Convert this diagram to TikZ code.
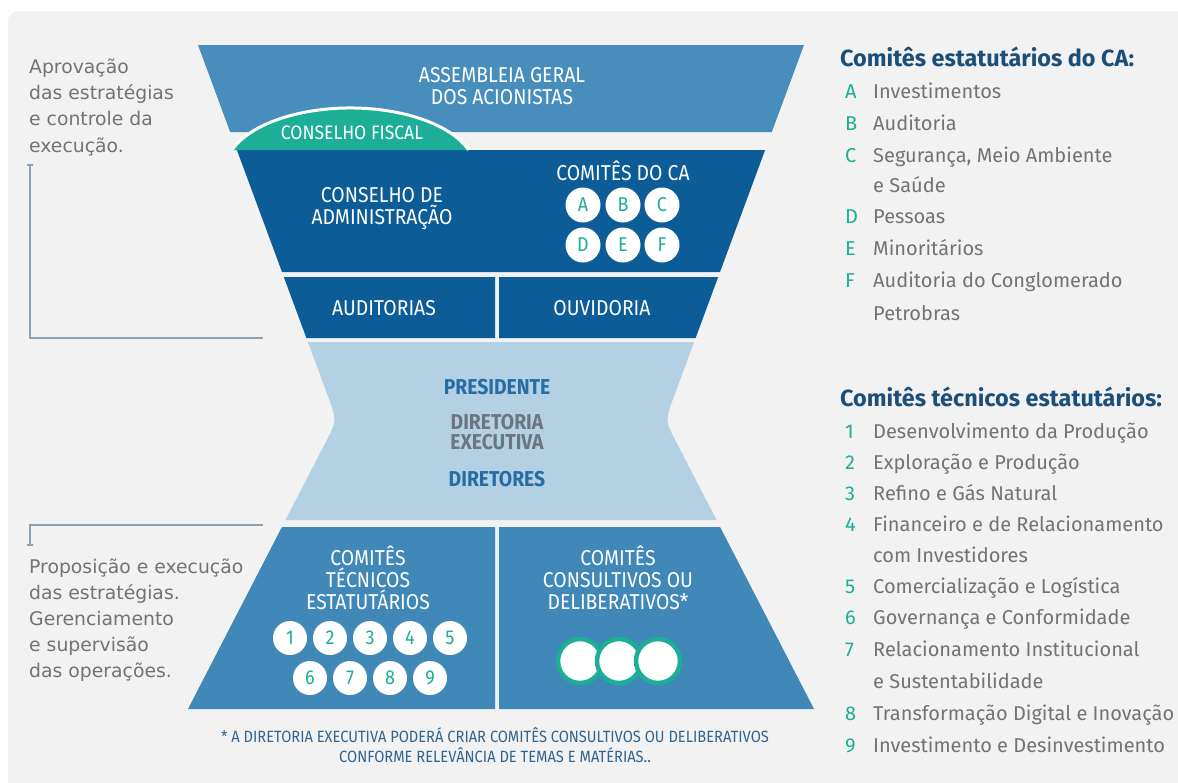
\documentclass[tikz,border=0pt]{standalone}
\usepackage{fontspec}
\setmainfont{Fira Sans}
\newfontfamily\bandfont[FakeStretch=0.9]{Fira Sans}
\newfontfamily\sidefont{DejaVu Sans}
\usetikzlibrary{calc}
\definecolor{paper}{RGB}{242,242,242}
\definecolor{steelblue}{RGB}{72,142,188}
\definecolor{darkblue}{RGB}{12,92,152}
\definecolor{paleblue}{RGB}{180,208,227}
\definecolor{midblue}{RGB}{63,136,184}
\definecolor{govteal}{RGB}{28,174,150}
\definecolor{textgray}{RGB}{115,115,115}
\definecolor{headblue}{RGB}{28,78,122}
\definecolor{labelblue}{RGB}{38,108,165}
\definecolor{diretgray}{RGB}{108,118,128}
\definecolor{noteblue}{RGB}{47,100,145}
\definecolor{bracketgray}{RGB}{140,160,180}
\tikzset{
  bandtext/.style={text=white,align=center,inner sep=0pt,font=\bandfont\fontsize{21.5}{22}\selectfont},
  cabubble/.style={circle,fill=white,text=govteal,minimum size=35pt,inner sep=0pt,font=\bandfont\fontsize{20}{20}\selectfont},
  tecbubble/.style={cabubble,minimum size=34pt},
  consbubble/.style={circle,fill=white,draw=govteal,line width=4.5pt,minimum size=44pt,inner sep=0pt},
  sideline/.style={anchor=base west,text=textgray,inner sep=0pt,font=\sidefont\fontsize{18.8}{22}\selectfont},
  listhead/.style={anchor=base west,text=headblue,inner sep=0pt,font=\bfseries\fontsize{23.4}{26}\selectfont},
  listkey/.style={anchor=base west,text=govteal,inner sep=0pt,font=\fontsize{20}{24}\selectfont},
  listitem/.style={anchor=base west,text=textgray,inner sep=0pt,font=\fontsize{20}{24}\selectfont},
  bracket/.style={draw=bracketgray,line width=1.3pt}
}

\begin{document}
\begin{tikzpicture}[x=1pt,y=-1pt]
  \useasboundingbox (0,0) rectangle (1178,782);
  \fill[white] (0,0) rectangle (1178,782);
  \fill[paper,rounded corners=10pt] (8,11) rectangle (1200,800);

  % hourglass bands
  \fill[steelblue] (198,45) -- (804,45) -- (771.8,132) -- (230.2,132) -- cycle;
  \fill[darkblue] (236.9,150) -- (765.1,150) -- (720,272) -- (282,272) -- cycle;
  \fill[darkblue] (283.8,277) -- (495,277) -- (495,338) -- (306.4,338) -- cycle;
  \fill[darkblue] (499,277) -- (718.2,277) -- (695.6,338) -- (499,338) -- cycle;
  \fill[paleblue] (307.9,342) -- (327.1,394) .. controls (337,420.4) .. (326.8,440) -- (285.5,520)
    -- (716.5,520) -- (675.2,440) .. controls (665,420.4) .. (674.9,394) -- (694.1,342) -- cycle;
  \fill[midblue] (281.9,527) -- (495,527) -- (495,709) -- (188,709) -- cycle;
  \fill[midblue] (499,527) -- (720.1,527) -- (814,709) -- (499,709) -- cycle;
  \fill[govteal] (232,150) arc[start angle=161.2,end angle=18.8,x radius=125pt,y radius=62pt] -- cycle;
  \draw[white,line width=3pt] (232,150) arc[start angle=161.2,end angle=18.8,x radius=125pt,y radius=62pt];

  % labels on the bands
  \node[bandtext] (assembleia) at (502,86) {ASSEMBLEIA GERAL\\DOS ACIONISTAS};
  \node[bandtext,font=\bandfont\fontsize{19.5}{20}\selectfont] (fiscal) at (352,133) {CONSELHO FISCAL};
  \node[bandtext] (conselho) at (382,209) {CONSELHO DE\\ADMINISTRAÇÃO};
  \node[bandtext] (comitesca) at (623,171) {COMITÊS DO CA};
  \foreach \k/\x/\y in {A/583/205,B/623/205,C/662/205,D/583/245,E/623/245,F/662/245}
    \node[cabubble] (ca-\k) at (\x,\y) {\k};
  \node[bandtext] (auditorias) at (384,308) {AUDITORIAS};
  \node[bandtext] (ouvidoria) at (602,308) {OUVIDORIA};
  \node[bandtext,text=labelblue,font=\bandfont\bfseries\fontsize{21.5}{22}\selectfont] (presidente) at (497,387) {PRESIDENTE};
  \node[bandtext,text=diretgray,font=\bandfont\bfseries\fontsize{21.5}{20}\selectfont] (diretoria) at (497,432) {DIRETORIA\\EXECUTIVA};
  \node[bandtext,text=labelblue,font=\bandfont\bfseries\fontsize{21.5}{22}\selectfont] (diretores) at (497,479) {DIRETORES};
  \node[bandtext] (tecnicos) at (368,578) {COMITÊS\\TÉCNICOS\\ESTATUTÁRIOS};
  \foreach \k/\x/\y in {1/290/638,2/330/638,3/370/638,4/410/638,5/450/638,6/310/678,7/350/678,8/390/678,9/430/678}
    \node[tecbubble] (tec-\k) at (\x,\y) {\k};
  \node[bandtext] (consultivos) at (618,578) {COMITÊS\\CONSULTIVOS OU\\DELIBERATIVOS*};
  \foreach \i/\x in {1/580,2/619,3/658}
    \node[consbubble] (cons-\i) at (\x,661) {};
  \node[bandtext,text=noteblue,font=\bandfont\fontsize{16.3}{20}\selectfont] (nota) at (495,745)
    {* A DIRETORIA EXECUTIVA PODERÁ CRIAR COMITÊS CONSULTIVOS OU DELIBERATIVOS\\CONFORME RELEVÂNCIA DE TEMAS E MATÉRIAS..};

  % left side texts and brackets
  \foreach \t [count=\i] in {Aprovação,das estratégias,e controle da,execução.}
    \node[sideline] (aprov-\i) at (29,47+26.3*\i) {\t};
  \draw[bracket] (27,165) -- (33,165);
  \draw[bracket] (30,165) -- (30,338) -- (263,338);
  \draw[bracket] (263,525) -- (30,525) -- (30,545);
  \draw[bracket] (27,545) -- (33,545);
  \foreach \t [count=\i] in {Proposição e execução,das estratégias.,Gerenciamento,e supervisão,das operações.}
    \node[sideline] (propos-\i) at (29,547+26*\i) {\t};

  % right side lists
  \node[listhead] (cahead) at (840,66) {Comitês estatutários do CA:};
  \foreach \y/\k/\t in {98/A/Investimentos,130/B/Auditoria,162/C/{Segurança, Meio Ambiente},223/D/Pessoas,255/E/Minoritários,287/F/Auditoria do Conglomerado}{
    \node[listkey] (key-\k) at (845,\y) {\k};
    \node[listitem] (item-\k) at (873,\y) {\t};
  }
  \node[listitem] (item-C2) at (873,192) {e Saúde};
  \node[listitem] (item-F2) at (873,320) {Petrobras};
  \node[listhead] (tehead) at (840,406) {Comitês técnicos estatutários:};
  \foreach \y/\k/\t in {438/1/Desenvolvimento da Produção,469/2/Exploração e Produção,500/3/Refino e Gás Natural,531/4/Financeiro e de Relacionamento,593/5/Comercialização e Logística,624/6/Governança e Conformidade,656/7/Relacionamento Institucional,720/8/Transformação Digital e Inovação,752/9/Investimento e Desinvestimento}{
    \node[listkey] (tkey-\k) at (845,\y) {\k};
    \node[listitem] (titem-\k) at (873,\y) {\t};
  }
  \node[listitem] (titem-4b) at (873,562) {com Investidores};
  \node[listitem] (titem-7b) at (873,688) {e Sustentabilidade};
\end{tikzpicture}
\end{document}
